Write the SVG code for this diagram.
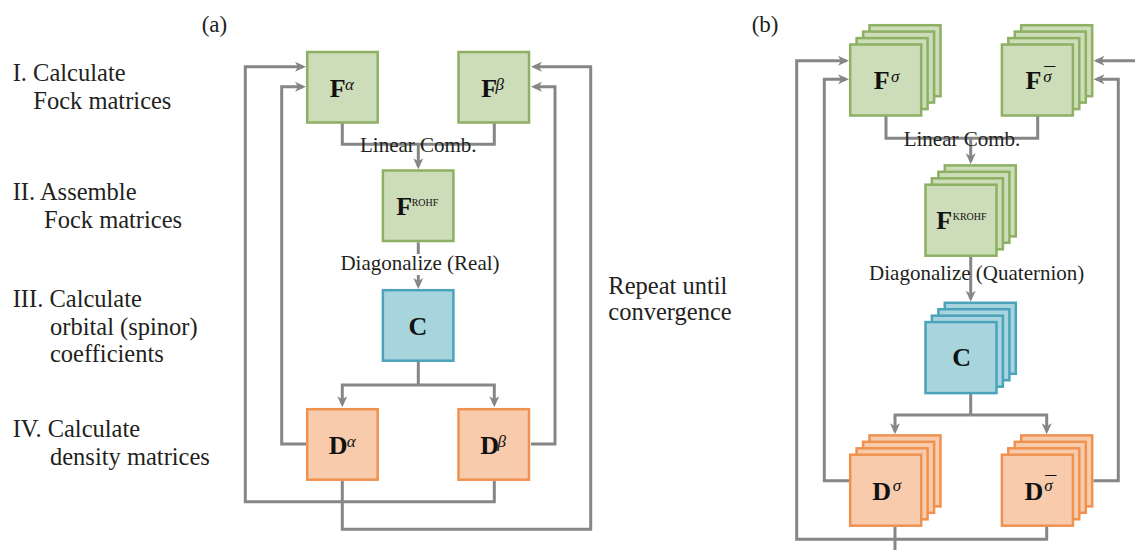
<svg xmlns="http://www.w3.org/2000/svg" width="1135" height="550" viewBox="0 0 1135 550">
<style>
.txt{font-family:"Liberation Serif","Times New Roman",serif;fill:#231f20}
.side{font-size:24.5px}
.lab{font-size:21px}
.big{font-family:"Liberation Serif","Times New Roman",serif;font-weight:bold;font-size:26px;fill:#111}
.sup{font-family:"Liberation Serif","Times New Roman",serif;font-style:italic;font-weight:normal;font-size:17px;fill:#111}
.bar{font-family:"Liberation Serif","Times New Roman",serif;font-style:normal;font-weight:normal;font-size:22px;fill:#111}
.sc{font-family:"Liberation Serif","Times New Roman",serif;font-weight:normal;font-size:10px;fill:#111}
.g{fill:#cddcb9;stroke:#8db062;stroke-width:2.5}
.b{fill:#a8d4de;stroke:#4aa3ba;stroke-width:2.5}
.o{fill:#f8cbad;stroke:#f0924f;stroke-width:2.5}
.ln{fill:none;stroke:#868686;stroke-width:3;stroke-linejoin:miter}
.ar{marker-end:url(#ah)}
</style>
<defs>
<marker id="ah" markerUnits="userSpaceOnUse" markerWidth="12" markerHeight="12" viewBox="0 0 12 10" refX="8" refY="5" orient="auto">
<path d="M0,0 L11,5 L0,10 L3,5 Z" fill="#868686"/>
</marker>
</defs>

<g id="panel-labels" class="txt">
<text x="201.7" y="31.7" font-size="23">(a)</text>
<text x="751.7" y="31.7" font-size="23">(b)</text>
</g>

<g id="step-labels" class="txt side">
<text x="12.7" y="81">I. Calculate</text>
<text x="33.3" y="108.5">Fock matrices</text>
<text x="12.7" y="200">II. Assemble</text>
<text x="44" y="228">Fock matrices</text>
<text x="12.7" y="307">III. Calculate</text>
<text x="50" y="335">orbital (spinor)</text>
<text x="50" y="362">coefficients</text>
<text x="12.7" y="437">IV. Calculate</text>
<text x="50" y="465">density matrices</text>
<text x="608.3" y="294">Repeat until</text>
<text x="608.3" y="320">convergence</text>
</g>

<g id="connectors">
<!-- panel a -->
<path class="ln ar" d="M494.3,481 V501.7 H245.3 V66.7 H303"/>
<path class="ln ar" d="M306,444 H281.7 V86.7 H303"/>
<path class="ln ar" d="M531,444 H555 V86.7 H534"/>
<path class="ln ar" d="M342.3,481 V529.3 H590.7 V66.7 H534"/>
<path class="ln" d="M342.3,123 V144.3 H494.3 V123"/>
<path class="ln ar" d="M418.3,144.3 V166.3"/>
<path class="ln" d="M418.3,242.3 V254"/>
<path class="ln ar" d="M418.3,275 V286"/>
<path class="ln" d="M418.3,361 V385"/>
<path class="ln ar" d="M418.3,385 H342.3 V404.3"/>
<path class="ln ar" d="M418.3,385 H494.3 V404.3"/>
<!-- panel b -->
<path class="ln ar" d="M1046.7,526.7 V539.3 H796.7 V60.7 H846"/>
<path class="ln ar" d="M849,480.7 H824.3 V79.3 H846"/>
<path class="ln ar" d="M1093.5,480.7 H1118.3 V79.3 H1096.5"/>
<path class="ln ar" d="M1137,60.7 H1096.5"/>
<path class="ln" d="M895,526.7 V552"/>
<path class="ln" d="M886,116 V138.3 H1037.7 V116"/>
<path class="ln ar" d="M970.7,138.3 V161.3"/>
<path class="ln ar" d="M970.7,256.7 V298.7"/>
<path class="ln" d="M970.7,394 V415"/>
<path class="ln ar" d="M970.7,415 H895 V431.3"/>
<path class="ln ar" d="M970.7,415 H1046.7 V431.3"/>
</g>

<g id="edge-labels" class="txt lab">
<text x="418.3" y="151.7" text-anchor="middle">Linear Comb.</text>
<text x="420" y="270" text-anchor="middle">Diagonalize (Real)</text>
<text x="962" y="145.7" text-anchor="middle">Linear Comb.</text>
<text x="976.7" y="280" text-anchor="middle">Diagonalize (Quaternion)</text>
</g>

<!-- panel a nodes -->
<g id="node-Fa">
<rect class="g" x="307.2" y="52" width="70.5" height="70.5"/>
<text class="big" x="329.7" y="96.7">F<tspan class="sup" x="345" y="90">α</tspan></text>
</g>
<g id="node-Fb">
<rect class="g" x="458.5" y="52" width="70.5" height="70.5"/>
<text class="big" x="481.3" y="96.7">F<tspan class="sup" x="495.5" y="90">β</tspan></text>
</g>
<g id="node-FROHF">
<rect class="g" x="382.9" y="170.5" width="70.5" height="70.5"/>
<text class="big" x="396.2" y="215">F<tspan class="sc" x="411.7" y="205.5">ROHF</tspan></text>
</g>
<g id="node-C-a">
<rect class="b" x="382.9" y="290.2" width="70.5" height="70.5"/>
<text class="big" x="408.5" y="335">C</text>
</g>
<g id="node-Da">
<rect class="o" x="307.2" y="409.2" width="70.5" height="70.5"/>
<text class="big" x="328.8" y="454.3">D<tspan class="sup" x="346.7" y="447">α</tspan></text>
</g>
<g id="node-Db">
<rect class="o" x="458.5" y="409.2" width="70.5" height="70.5"/>
<text class="big" x="480.2" y="454.3">D<tspan class="sup" x="497.5" y="447">β</tspan></text>
</g>

<!-- panel b nodes (stacks) -->
<g id="node-Fs">
<rect class="g" x="869.5" y="25.2" width="71" height="71"/>
<rect class="g" x="863.1" y="31.6" width="71" height="71"/>
<rect class="g" x="856.6" y="38.1" width="71" height="71"/>
<rect class="g" x="850.2" y="44.5" width="71" height="71"/>
<text class="big" x="873.8" y="89.3">F<tspan class="sup" x="891" y="82">σ</tspan></text>
</g>
<g id="node-Fsbar">
<rect class="g" x="1021.2" y="25.2" width="71" height="71"/>
<rect class="g" x="1014.8" y="31.6" width="71" height="71"/>
<rect class="g" x="1008.3" y="38.1" width="71" height="71"/>
<rect class="g" x="1001.9" y="44.5" width="71" height="71"/>
<text class="big" x="1025.5" y="89.3">F<tspan class="sup" x="1043.3" y="82">σ</tspan><tspan class="bar" x="1044.3" y="82">¯</tspan></text>
</g>
<g id="node-FKROHF">
<rect class="g" x="944.8" y="165.4" width="71" height="71"/>
<rect class="g" x="938.4" y="171.8" width="71" height="71"/>
<rect class="g" x="931.9" y="178.3" width="71" height="71"/>
<rect class="g" x="925.5" y="184.7" width="71" height="71"/>
<text class="big" x="936.2" y="229.3">F<tspan class="sc" x="952.7" y="219.7">KROHF</tspan></text>
</g>
<g id="node-C-b">
<rect class="b" x="944.8" y="302.8" width="71" height="71"/>
<rect class="b" x="938.4" y="309.2" width="71" height="71"/>
<rect class="b" x="931.9" y="315.7" width="71" height="71"/>
<rect class="b" x="925.5" y="322.1" width="71" height="71"/>
<text class="big" x="952.2" y="366">C</text>
</g>
<g id="node-Ds">
<rect class="o" x="869.5" y="435.4" width="71" height="71"/>
<rect class="o" x="863.1" y="441.8" width="71" height="71"/>
<rect class="o" x="856.6" y="448.3" width="71" height="71"/>
<rect class="o" x="850.2" y="454.7" width="71" height="71"/>
<text class="big" x="872.2" y="500">D<tspan class="sup" x="892.7" y="491">σ</tspan></text>
</g>
<g id="node-Dsbar">
<rect class="o" x="1021.2" y="435.4" width="71" height="71"/>
<rect class="o" x="1014.8" y="441.8" width="71" height="71"/>
<rect class="o" x="1008.3" y="448.3" width="71" height="71"/>
<rect class="o" x="1001.9" y="454.7" width="71" height="71"/>
<text class="big" x="1024.5" y="500">D<tspan class="sup" x="1044.3" y="491">σ</tspan><tspan class="bar" x="1045.3" y="491">¯</tspan></text>
</g>
</svg>
